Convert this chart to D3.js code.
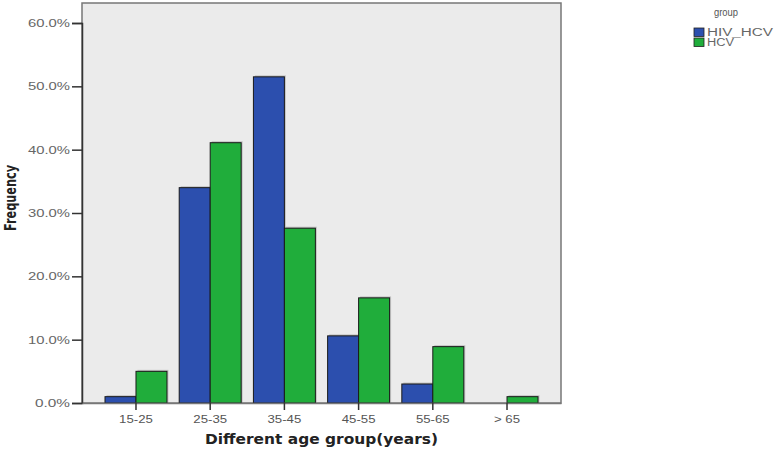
<!DOCTYPE html>
<html><head><meta charset="utf-8">
<script src="https://cdn.jsdelivr.net/npm/d3@7"></script>
<style>body{margin:0;background:#fff;} svg{display:block;}</style>
</head><body>
<svg id="c" width="778" height="450"></svg>
<script>
const categories = ["15-25","25-35","35-45","45-55","55-65","> 65"];
const seriesNames = ["HIV_HCV","HCV"];
const hivHcv = [1.0, 34.0, 51.5, 10.6, 3.0, 0.0];
const hcv = [5.0, 41.1, 27.6, 16.6, 8.9, 1.0];
const yTicks = [0,10,20,30,40,50,60];
const colors = ["#2c4fae","#20ad3b"];

const svg = d3.select("#c");
const m = {l:82, t:3, r:561, b:403};
const x = d3.scaleBand().domain(categories).range([m.l, m.r]).paddingInner(0.165).paddingOuter(0.31);
const xs = d3.scaleBand().domain(seriesNames).range([0, x.bandwidth()]);
const y = d3.scaleLinear().domain([0,60]).range([m.b, m.t+20]);

svg.append("rect").attr("x",m.l).attr("y",m.t).attr("width",m.r-m.l).attr("height",m.b-m.t)
  .attr("fill","#ebebeb").attr("stroke","#777").attr("stroke-width",1.5);

const data = categories.map((c,i)=>({c, vals:[hivHcv[i], hcv[i]]}));
const g = svg.append("g");
data.forEach(d=>{
  d.vals.forEach((v,j)=>{
    if (v<=0) return;
    const bx = x(d.c)+xs(seriesNames[j]);
    g.append("rect").attr("x",bx+1.5).attr("y",y(v)-1.5).attr("width",xs.bandwidth()).attr("height",y(0)-y(v)+1.5)
      .attr("fill","#777").attr("opacity",0.35);
    g.append("rect").attr("x",bx).attr("y",y(v)).attr("width",xs.bandwidth()).attr("height",y(0)-y(v))
      .attr("fill",colors[j]).attr("stroke","#1a1a1a").attr("stroke-width",1);
  });
});

const yAxis = d3.axisLeft(y).tickValues(yTicks).tickFormat(d=>d.toFixed(1)+"%").tickSize(10).tickPadding(2);
const ya = svg.append("g").attr("transform",`translate(${m.l},0)`).call(yAxis);
ya.select(".domain").attr("stroke","#333").attr("stroke-width",1.5);
ya.selectAll(".tick line").attr("stroke","#333").attr("stroke-width",1.5);
ya.selectAll("text").attr("font-family","Liberation Sans, Arial, sans-serif").attr("font-size","11px").attr("fill","#666")
  .attr("textLength",42).attr("lengthAdjust","spacingAndGlyphs");
ya.selectAll(".tick").filter(d=>d===0).select("text").attr("textLength",35);

const xAxis = d3.axisBottom(x).tickSize(7).tickPadding(5).tickSizeOuter(0);
const xa = svg.append("g").attr("transform",`translate(0,${m.b})`).call(xAxis);
xa.select(".domain").attr("stroke","#777").attr("stroke-width",1.5);
xa.selectAll(".tick line").attr("stroke","#333").attr("stroke-width",1.5);
xa.selectAll("text").attr("font-family","Liberation Sans, Arial, sans-serif").attr("font-size","11px").attr("fill","#555")
  .each(function(){ const w=this.getComputedTextLength(); d3.select(this).attr("textLength",w*1.2).attr("lengthAdjust","spacingAndGlyphs"); });

svg.append("text").attr("x",(m.l+m.r)/2).attr("y",444).attr("text-anchor","middle")
  .attr("font-family","DejaVu Sans, sans-serif").attr("font-weight","bold").attr("font-size","14px").attr("fill","#222")
  .attr("textLength",233).attr("lengthAdjust","spacingAndGlyphs")
  .text("Different age group(years)");
svg.append("text").attr("transform","translate(16,198) rotate(-90)").attr("text-anchor","middle")
  .attr("font-family","DejaVu Sans Condensed, DejaVu Sans, sans-serif").attr("font-weight","bold").attr("font-size","15px").attr("fill","#222")
  .attr("textLength",66).attr("lengthAdjust","spacingAndGlyphs")
  .text("Frequency");

const lg = svg.append("g");
lg.append("text").attr("x",714).attr("y",16).attr("font-family","Liberation Sans, Arial, sans-serif").attr("font-size","10px").attr("fill","#555")
  .attr("textLength",24).attr("lengthAdjust","spacingAndGlyphs").text("group");
seriesNames.forEach((s,i)=>{
  lg.append("rect").attr("x",694).attr("y",28+i*10).attr("width",10).attr("height",8.5)
    .attr("fill",colors[i]).attr("stroke","#222").attr("stroke-width",0.8);
  lg.append("text").attr("x",707).attr("y",36+i*10).attr("font-family","Liberation Sans, Arial, sans-serif")
    .attr("font-size","10px").attr("fill","#666").attr("textLength",i===0?66:27).attr("lengthAdjust","spacingAndGlyphs").text(s);
});
</script>
</body></html>
